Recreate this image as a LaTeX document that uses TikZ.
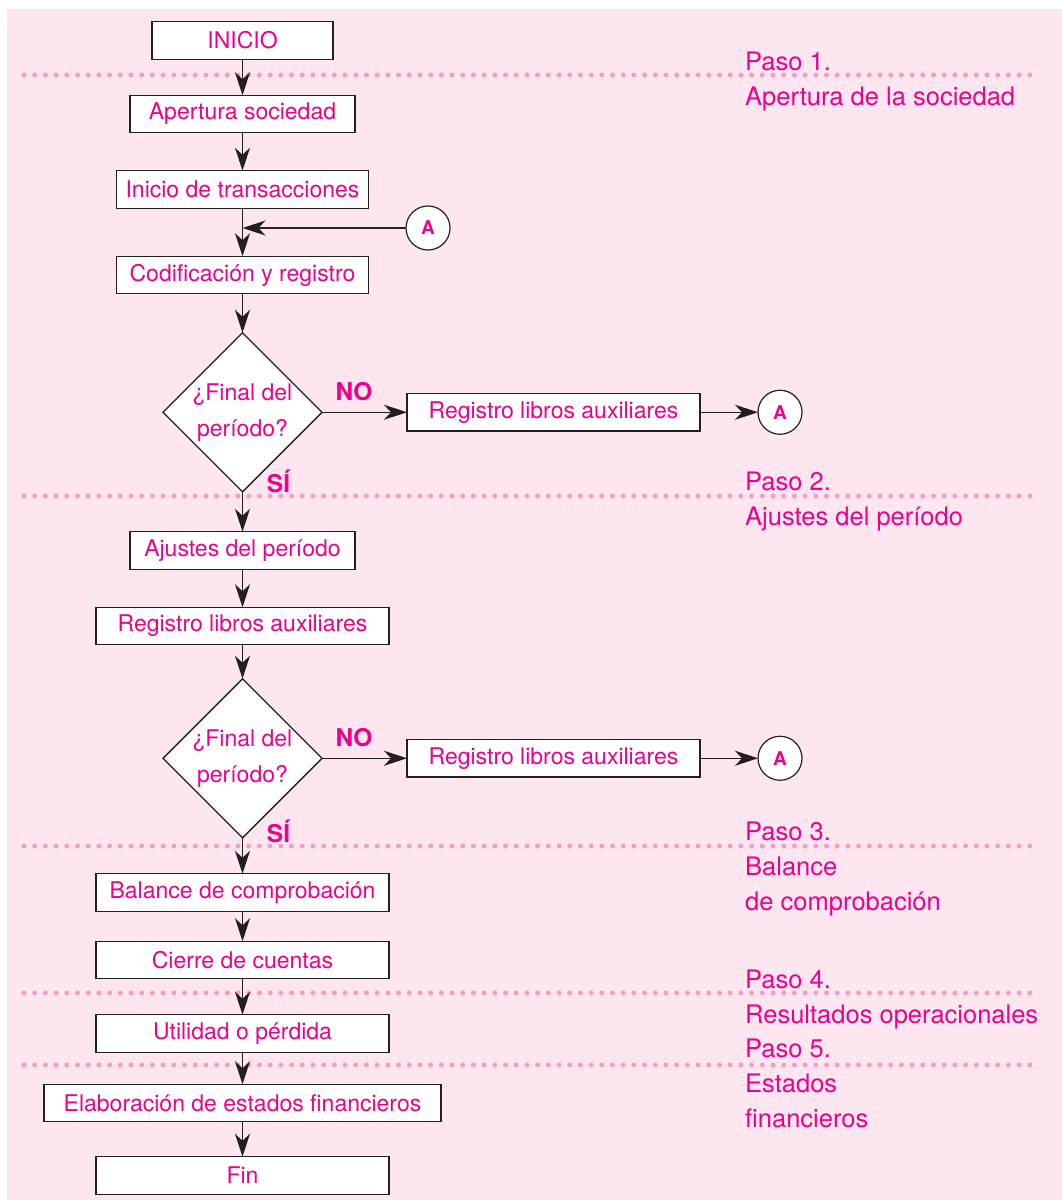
\documentclass[tikz,border=0pt]{standalone}
\usepackage{fontspec}
\setmainfont{TeX Gyre Heros}
\usetikzlibrary{positioning,arrows.meta,shapes.geometric}
\definecolor{magtext}{HTML}{EC008C}
\definecolor{bgpink}{HTML}{FDE6EF}
\definecolor{dotpink}{HTML}{F59DC4}
\definecolor{linegray}{HTML}{231F20}
\begin{document}
\begin{tikzpicture}[x=1pt,y=-1pt,font=\fontsize{23}{27}\selectfont,text=magtext,
 box/.style={draw=linegray,fill=white,rectangle,line width=1.4pt,minimum height=37.5pt,inner sep=0pt,outer sep=0pt},
 dec/.style={draw=linegray,fill=white,diamond,aspect=1,line width=1.4pt,minimum size=159pt,inner sep=0pt,outer sep=0pt,align=center,font=\fontsize{23}{36}\selectfont},
 con/.style={draw=linegray,fill=white,circle,line width=1.2pt,minimum size=44pt,inner sep=0pt,outer sep=0pt,font=\fontsize{19}{19}\selectfont\bfseries},
 lab/.style={font=\fontsize{24.5}{24.5}\selectfont\bfseries},
 paso/.style={anchor=base west,align=left,inner sep=0pt,font=\fontsize{25.5}{35}\selectfont},
 sep/.style={dotpink,line width=5pt,line cap=round,dash pattern=on 0pt off 10.7pt},
 arr/.style={-{Stealth[length=23pt,width=15pt,inset=7pt]},draw=linegray,line width=1.5pt}]
\useasboundingbox (0,0) rectangle (1062,1202);
\fill[bgpink] (7,9) rectangle (1062,1200);
\foreach \y in {75,496,846,993,1065} \draw[sep] (24,\y) -- (1036,\y);
\node[box,minimum width=181pt] (ini) at (242.5,40.5) {INICIO};
\node[box,minimum width=225pt,below=36pt of ini] (aper) {Apertura sociedad};
\node[box,minimum width=252pt,below=38pt of aper] (trans) {Inicio de transacciones};
\node[box,minimum width=252pt,below=48pt of trans] (cod) {Codificación y registro};
\node[dec,below=39pt of cod] (fin1) {¿Final del\\período?};
\node[box,minimum width=293pt,right=85pt of fin1] (aux1) {Registro libros auxiliares};
\node[con,right=58pt of aux1] (a1) {A};
\node[con] (a0) at (428,228) {A};
\node[lab] (no1) at ([xshift=32pt,yshift=21pt]fin1.east) {NO};
\node[lab] (si1) at ([xshift=36pt,yshift=10pt]fin1.south) {SÍ};
\node[box,minimum width=225pt,below=40pt of fin1] (ajus) {Ajustes del período};
\node[box,minimum width=293pt,below=38pt of ajus] (reg) {Registro libros auxiliares};
\node[dec,below=34pt of reg] (fin2) {¿Final del\\período?};
\node[box,minimum width=293pt,right=85pt of fin2] (aux2) {Registro libros auxiliares};
\node[con,right=58pt of aux2] (a2) {A};
\node[lab] (no2) at ([xshift=32pt,yshift=21pt]fin2.east) {NO};
\node[lab] (si2) at ([xshift=36pt,yshift=6pt]fin2.south) {SÍ};
\node[box,minimum width=293pt,below=36pt of fin2] (bal) {Balance de comprobación};
\node[box,minimum width=293pt,below=30pt of bal] (cie) {Cierre de cuentas};
\node[box,minimum width=293pt,below=36pt of cie] (uti) {Utilidad o pérdida};
\node[box,minimum width=397pt,below=32pt of uti] (ela) {Elaboración de estados financieros};
\node[box,minimum width=293pt,below=35pt of ela] (fin) {Fin};
% paso labels: base = baseline of last line
\node[paso] (p1) at (745,105) {Paso 1.\\Apertura de la sociedad};
\node[paso] (p2) at (745,525) {Paso 2.\\Ajustes del período};
\node[paso] (p3) at (745,910) {Paso 3.\\Balance\\de comprobación};
\node[paso] (p4) at (745,1023) {Paso 4.\\Resultados operacionales};
\node[paso] (p5) at (745,1127) {Paso 5.\\Estados\\financieros};
\draw[arr](ini)--(aper); \draw[arr](aper)--(trans); \draw[arr](trans)--(cod);
\draw[arr](a0)--(a0-|cod); \draw[arr](cod)--(fin1);
\draw[arr](fin1)--(aux1); \draw[arr](aux1)--(a1); \draw[arr](fin1)--(ajus);
\draw[arr](ajus)--(reg); \draw[arr](reg)--(fin2);
\draw[arr](fin2)--(aux2); \draw[arr](aux2)--(a2); \draw[arr](fin2)--(bal);
\draw[arr](bal)--(cie); \draw[arr](cie)--(uti); \draw[arr](uti)--(ela); \draw[arr](ela)--(fin);
\end{tikzpicture}
\end{document}
